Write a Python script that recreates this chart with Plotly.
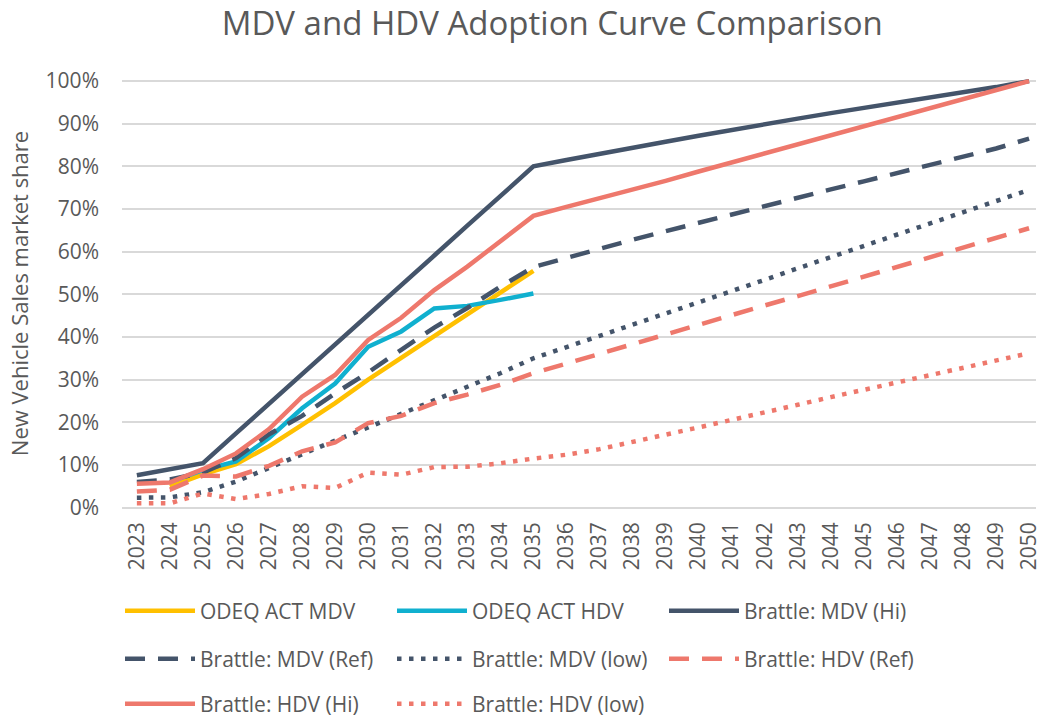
import plotly.graph_objects as go

# Model years on the category axis
years = list(range(2023, 2051))
year_labels = [str(y) for y in years]

# New-vehicle sales share (fraction) by series
odeq_act_mdv = [None, 0.049, 0.078, 0.102, 0.144, 0.194, 0.245, 0.300, 0.351, 0.402,
                0.453, 0.504, 0.555] + [None] * 15
odeq_act_hdv = [None, 0.060, 0.088, 0.108, 0.163, 0.233, 0.291, 0.377, 0.413, 0.467,
                0.473, 0.487, 0.502] + [None] * 15
brattle_mdv_hi = [0.076, 0.090, 0.104, 0.174, 0.243, 0.313, 0.382, 0.452, 0.522, 0.591,
                  0.661, 0.730, 0.800, 0.815, 0.830, 0.844, 0.858, 0.872, 0.886, 0.899,
                  0.912, 0.925, 0.937, 0.949, 0.961, 0.973, 0.986, 1.000]
brattle_mdv_ref = [0.060, 0.066, 0.082, 0.116, 0.172, 0.215, 0.268, 0.317, 0.370, 0.422,
                   0.468, 0.518, 0.564, 0.586, 0.607, 0.628, 0.648, 0.668, 0.688, 0.708,
                   0.727, 0.746, 0.765, 0.784, 0.803, 0.822, 0.842, 0.865]
brattle_mdv_low = [0.023, 0.024, 0.036, 0.061, 0.093, 0.126, 0.157, 0.188, 0.220, 0.252,
                   0.285, 0.315, 0.350, 0.376, 0.403, 0.429, 0.455, 0.482, 0.508, 0.534,
                   0.561, 0.587, 0.613, 0.640, 0.666, 0.692, 0.719, 0.745]
brattle_hdv_ref = [0.0375, 0.042, 0.075, 0.073, 0.098, 0.132, 0.153, 0.198, 0.215, 0.245,
                   0.265, 0.288, 0.315, 0.338, 0.360, 0.383, 0.406, 0.428, 0.451, 0.474,
                   0.496, 0.519, 0.542, 0.564, 0.587, 0.610, 0.632, 0.655]
brattle_hdv_hi = [0.056, 0.059, 0.090, 0.127, 0.184, 0.260, 0.311, 0.393, 0.445, 0.510,
                  0.565, 0.623, 0.684, 0.705, 0.725, 0.745, 0.766, 0.788, 0.809, 0.830,
                  0.851, 0.873, 0.894, 0.915, 0.936, 0.958, 0.979, 1.000]
brattle_hdv_low = [0.010, 0.010, 0.033, 0.020, 0.032, 0.050, 0.046, 0.082, 0.077, 0.095,
                   0.096, 0.104, 0.115, 0.124, 0.137, 0.153, 0.171, 0.188, 0.205, 0.223,
                   0.241, 0.259, 0.276, 0.293, 0.310, 0.328, 0.345, 0.362]

NAVY = "#44546A"
SALMON = "#EE786C"
YELLOW = "#FFC000"
CYAN = "#10B0CF"
TEXT = "#595959"
FONT = "Open Sans"
W = 4.5
DASH = "20px,13px"
DOT = "4.5px,7.5px"

series = [
    ("ODEQ ACT MDV", odeq_act_mdv, YELLOW, "solid", "legend"),
    ("ODEQ ACT HDV", odeq_act_hdv, CYAN, "solid", "legend"),
    ("Brattle: MDV (Hi)", brattle_mdv_hi, NAVY, "solid", "legend"),
    ("Brattle: MDV (Ref)", brattle_mdv_ref, NAVY, DASH, "legend2"),
    ("Brattle: MDV (low)", brattle_mdv_low, NAVY, DOT, "legend2"),
    ("Brattle: HDV (Ref)", brattle_hdv_ref, SALMON, DASH, "legend2"),
    ("Brattle: HDV (Hi)", brattle_hdv_hi, SALMON, "solid", "legend3"),
    ("Brattle: HDV (low)", brattle_hdv_low, SALMON, DOT, "legend3"),
]

fig = go.Figure()
for name, vals, color, dash, leg in series:
    fig.add_trace(go.Scatter(
        x=years, y=vals, name=name, mode="lines", legend=leg,
        line=dict(color=color, width=W, dash=dash),
        connectgaps=False, hoverinfo="skip",
    ))

H, WD = 719, 1042
legend_common = dict(
    orientation="h", xref="container", yref="container",
    xanchor="left", yanchor="middle",
    font=dict(family=FONT, size=21, color=TEXT),
    itemwidth=70, entrywidth=187, entrywidthmode="pixels",
    bgcolor="rgba(0,0,0,0)", traceorder="normal",
)
rows_y = [611, 659, 704]
legend_x = 120 / WD

fig.update_layout(
    width=WD, height=H,
    paper_bgcolor="white", plot_bgcolor="white",
    margin=dict(l=122, r=0, t=76, b=208),
    title=dict(text="MDV and HDV Adoption Curve Comparison",
               font=dict(family=FONT, size=33, color=TEXT),
               x=0.53, xanchor="center", y=1 - 23 / H, yanchor="middle",
               xref="container", yref="container"),
    xaxis=dict(
        range=[2022.55, 2050.21], tickmode="array", tickvals=years,
        ticktext=year_labels, tickangle=-90, showgrid=False, zeroline=False,
        showline=False, ticks="", tickfont=dict(family=FONT, size=21, color=TEXT),
        ticklabelstandoff=6, ticklabeloverflow="allow", fixedrange=True,
    ),
    yaxis=dict(
        range=[-0.008, 1.012], tickvals=[i / 10 for i in range(11)],
        tickformat=".0%", showgrid=True, gridcolor="#D9D9D9", gridwidth=1.5,
        zeroline=False, showline=False, ticks="", ticklabelstandoff=22,
        tickfont=dict(family=FONT, size=21, color=TEXT),
        title=dict(text="New Vehicle Sales market share",
                   font=dict(family=FONT, size=22, color=TEXT), standoff=10),
        fixedrange=True,
    ),
    legend=dict(x=legend_x, y=1 - rows_y[0] / H, **legend_common),
    legend2=dict(x=legend_x, y=1 - rows_y[1] / H, **legend_common),
    legend3=dict(x=legend_x, y=1 - rows_y[2] / H, **legend_common),
    showlegend=True,
)

fig.write_html("out.html")
